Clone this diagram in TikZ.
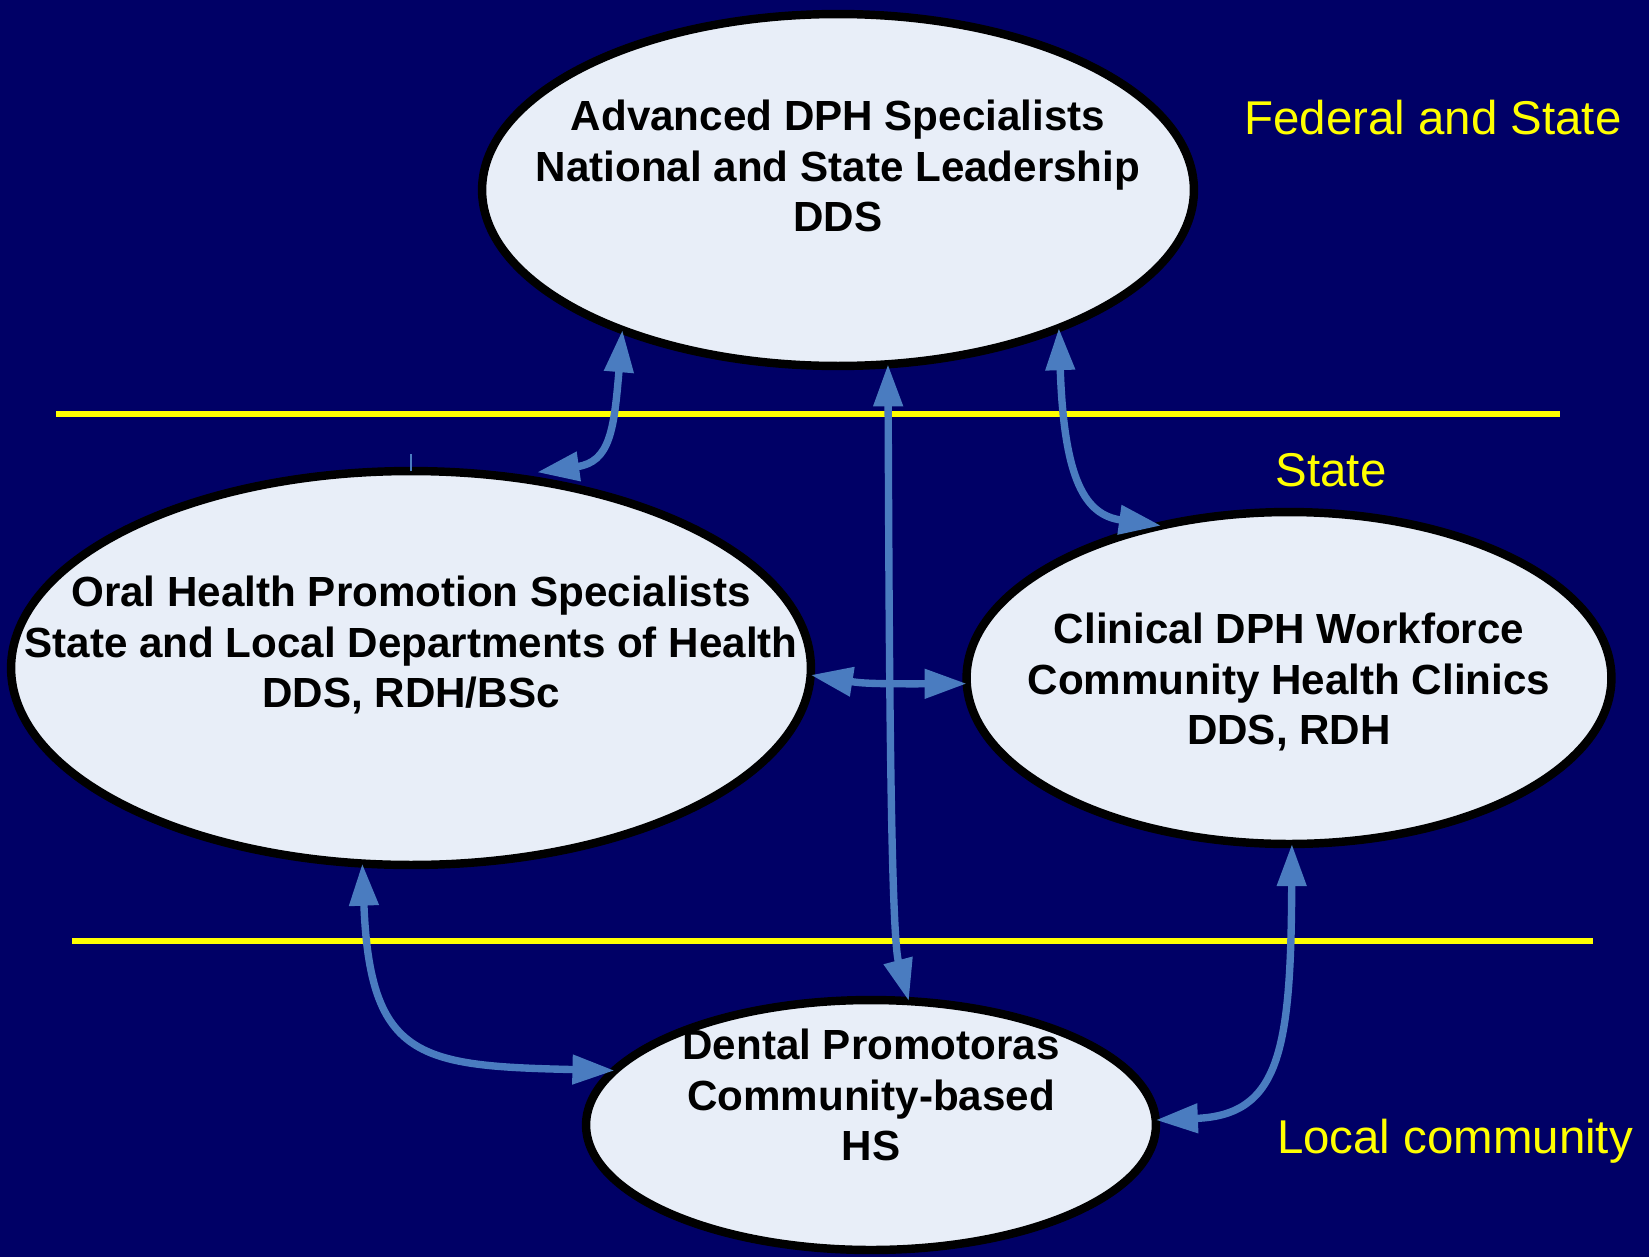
\documentclass[tikz,border=0pt]{standalone}
\usepackage{fontspec}
\setmainfont{Liberation Sans}
\usetikzlibrary{shapes.geometric,arrows.meta}
\definecolor{navy}{HTML}{000066}
\definecolor{bubblefill}{HTML}{E8EEF8}
\definecolor{linkblue}{HTML}{4A7CC0}
\definecolor{tier}{HTML}{FFFF00}
\tikzstyle{bubble} = [draw=black, fill=bubblefill, ellipse, line width=4.8pt, inner sep=0pt, outer sep=0pt]
\tikzstyle{bubbletext} = [text=black, align=center, font=\bfseries\fontsize{24}{28.7}\selectfont]
\tikzstyle{tierlabel} = [text=tier, font=\fontsize{27}{32}\selectfont]
\tikzstyle{tierline} = [draw=tier, line width=3.4pt]
\tikzstyle{line} = [draw=linkblue, line width=4.2pt, {Triangle[length=24pt,width=16pt]}-{Triangle[length=24pt,width=16pt]}]

\begin{document}
\begin{tikzpicture}[x=0.02cm, y=-0.02cm]
    \fill[navy] (0,0) rectangle (1649,1257);
    \useasboundingbox (0,0) rectangle (1649,1257);
    % levels
    \path[tierline] (56,414) -- (1560,414);
    \path[tierline] (72,941) -- (1593,941);
    \node[tierlabel] (fed) at (1433,118) {Federal and State};
    \node[tierlabel] (st) at (1331,470) {State};
    \node[tierlabel] (loc) at (1455,1141) {Local community};
    % workforce groups
    \node[bubble, minimum width=14.24cm, minimum height=7.04cm] (adv) at (838,190) {};
    \node[bubble, minimum width=16.0cm, minimum height=7.88cm] (ohp) at (411,668) {};
    \node[bubble, minimum width=12.9cm, minimum height=6.64cm] (cli) at (1289,678) {};
    \node[bubble, minimum width=11.4cm, minimum height=5.0cm] (prom) at (871,1125) {};
    \node[bubbletext] (advt) at (838,166) {Advanced DPH Specialists\\National and State Leadership\\DDS};
    \node[bubbletext] (ohpt) at (411,645) {Oral Health Promotion Specialists\\State and Local Departments of Health\\DDS, RDH/BSc};
    \node[bubbletext] (clit) at (1289,682) {Clinical DPH Workforce\\Community Health Clinics\\DDS, RDH};
    \node[bubbletext] (promt) at (871,1095) {Dental Promotoras\\Community-based\\HS};
    % links
    \path[line] ([yshift=5pt]ohp.56) .. controls (610,462) and (614,430) .. (adv.213);
    \path[line] (prom.73) .. controls (890,930) and (889,600) .. (adv.286);
    \path[line] (ohp.359) .. controls (860,683) and (870,684) .. (cli.181);
    \path[line] (adv.328) .. controls (1064,480) and (1085,515) .. (cli.130);
    \path[line] (ohp.256) .. controls (370,1060) and (420,1066) .. (prom.168);
    \path[line] (prom.1) .. controls (1280,1115) and (1291,1050) .. (cli.271);
    \draw[linkblue, line width=1.1pt] (ohp.north) -- ++(0,-17);
\end{tikzpicture}
\end{document}
